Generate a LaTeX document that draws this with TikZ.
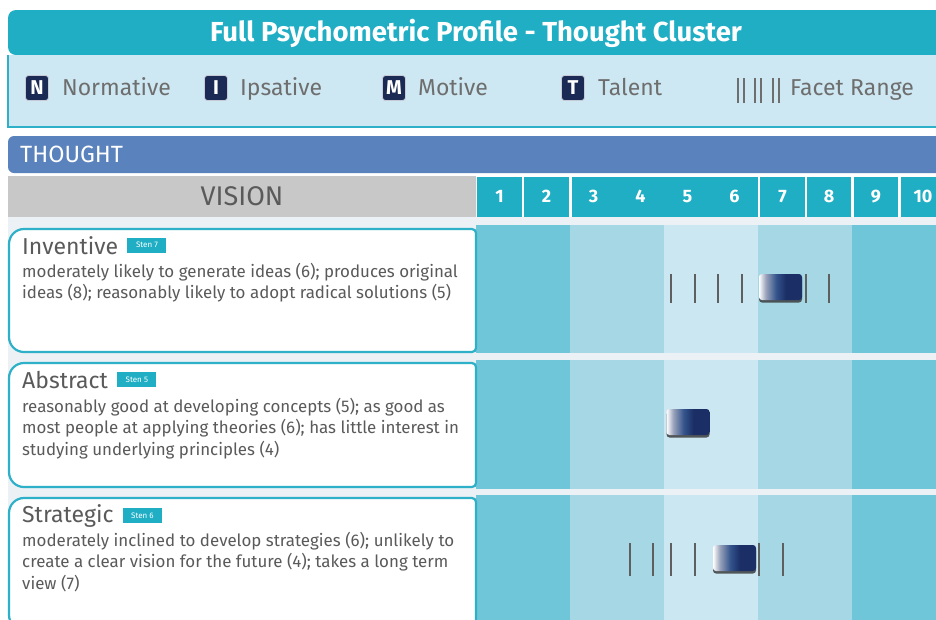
\documentclass[tikz,border=0pt]{standalone}
\usepackage{fontspec}
\setmainfont{Fira Sans}
\usetikzlibrary{positioning,shadows}
\definecolor{titleteal}{RGB}{32,174,197}
\definecolor{cardteal}{RGB}{46,176,200}
\definecolor{legendbg}{RGB}{205,232,242}
\definecolor{thoughtblue}{RGB}{90,130,188}
\definecolor{visiongray}{RGB}{200,200,200}
\definecolor{pagebg}{RGB}{235,241,244}
\definecolor{banddark}{RGB}{111,198,217}
\definecolor{bandmid}{RGB}{166,215,229}
\definecolor{bandlight}{RGB}{203,232,242}
\definecolor{navy}{RGB}{27,42,85}
\definecolor{markernavy}{RGB}{27,47,102}
\definecolor{markerblue}{RGB}{52,84,140}
\definecolor{legendtext}{RGB}{110,110,110}
\definecolor{textgray}{RGB}{90,90,90}
\definecolor{tickgray}{RGB}{95,95,95}
\pgfdeclarehorizontalshading{markershade}{100bp}{color(0bp)=(white); color(25bp)=(white);
    color(33bp)=(white!55!markernavy); color(45bp)=(markerblue); color(56bp)=(markernavy);
    color(100bp)=(markernavy)}

\begin{document}
\begin{tikzpicture}[x=1pt, y=-1pt,
    legbox/.style={fill=navy, draw=white!75!navy, line width=0.8pt, rounded corners=3pt,
        minimum width=23pt, minimum height=25pt, inner sep=0pt, text=white,
        font=\fontsize{20}{20}\selectfont\bfseries},
    legtext/.style={text=legendtext, font=\fontsize{23}{23}\selectfont, inner sep=0pt,
        text height=16pt, text depth=5pt, yshift=-2pt},
    legline/.style={draw=legendtext, line width=2pt},
    numcell/.style={fill=titleteal, minimum width=44.5pt, minimum height=40pt, inner sep=0pt,
        text=white, font=\fontsize{18}{18}\selectfont\bfseries},
    numtext/.style={text=white, inner sep=0pt, font=\fontsize{18}{18}\selectfont\bfseries},
    card/.style={draw=cardteal, line width=2.2pt, fill=white},
    cardtitle/.style={text=textgray, font=\fontsize{23}{23}\selectfont, inner sep=0pt, anchor=base west},
    badge/.style={fill=titleteal, text=white, font=\fontsize{8}{8}\selectfont, inner sep=0pt,
        minimum width=39pt, minimum height=15pt},
    desc/.style={text=textgray, font=\fontsize{16.9}{21.5}\selectfont, align=left, inner sep=0pt,
        anchor=north west},
    facet/.style={draw=tickgray, line width=2.5pt},
    marker/.style={rounded corners=3pt, shading=markershade, minimum width=43pt, minimum height=26pt,
        inner sep=0pt, drop shadow={shadow xshift=0pt, shadow yshift=-2.5pt, fill=black!80, opacity=0.8}}
]
    \useasboundingbox (0,0) rectangle (936,619);
    \clip (0,0) rectangle (936,619);
    \fill[white] (0,0) rectangle (936,619);

    % Title banner and legend.
    \fill[titleteal] (8,55) [rounded corners=8pt] -- (8,10) -- (950,10) -- (950,55) -- cycle;
    \node[text=white, font=\fontsize{27.5}{27.5}\selectfont\bfseries] (title) at (476,33)
        {Full Psychometric Profile - Thought Cluster};
    \fill[legendbg] (8,55) rectangle (936,127);
    \draw[cardteal, line width=1.5pt] (8,55) -- (8,127) -- (940,127);

    \node[legbox] (nbox) at (37,88) {N};
    \node[legtext, right=13pt of nbox] (nlab) {Normative};
    \node[legbox] (ibox) at (216,88) {I};
    \node[legtext, right=12pt of ibox] (ilab) {Ipsative};
    \node[legbox] (mbox) at (394,88) {M};
    \node[legtext, right=12pt of mbox] (mlab) {Motive};
    \node[legbox] (tbox) at (573,88) {T};
    \node[legtext, right=13pt of tbox] (tlab) {Talent};
    \foreach \x in {738,744,755,761,773,779}
        \draw[legline] (\x,78) -- (\x,103);
    \node[legtext, anchor=west] (flab) at (790,88) {Facet Range};

    % Cluster band and scale header.
    \fill[thoughtblue] (8,173) [rounded corners=6pt] -- (8,136) -- (950,136) -- (950,173) -- cycle;
    \node[text=white, font=\fontsize{23.5}{23.5}\selectfont, inner sep=0pt, anchor=west] (cluster) at (20,154) {THOUGHT};
    \fill[visiongray] (8,176) rectangle (476,217);
    \node[text=textgray, font=\fontsize{27}{27}\selectfont] (vision) at (242,196) {VISION};

    \node[numcell] (c1) at (499.5,196.5) {1};
    \node[numcell] (c2) at (546.5,196.5) {2};
    \node[numcell, minimum width=186pt] (c36) at (664.5,196.5) {};
    \node[numtext] (n3) at (593.5,196.5) {3};
    \node[numtext] (n4) at (640.5,196.5) {4};
    \node[numtext] (n5) at (687.5,196.5) {5};
    \node[numtext] (n6) at (734.5,196.5) {6};
    \node[numcell] (c7) at (782.5,196.5) {7};
    \node[numcell] (c8) at (829,196.5) {8};
    \node[numcell] (c9) at (876,196.5) {9};
    \node[numcell] (c10) at (923,196.5) {10};

    % Score bands behind the three rows.
    \fill[pagebg] (8,217) rectangle (936,619);
    \foreach \top/\bot in {225/353, 360/489, 495/625} {
        \fill[banddark] (476,\top) rectangle (570,\bot);
        \fill[bandmid] (570,\top) rectangle (664,\bot);
        \fill[bandlight] (664,\top) rectangle (758,\bot);
        \fill[bandmid] (758,\top) rectangle (852,\bot);
        \fill[banddark] (852,\top) rectangle (940,\bot);
    }

    % Inventive.
    \draw[card] (240,229) [rounded corners=4pt] -- (476,229) -- (476,352) -- (240,352)
        [rounded corners=15pt] -- (9,352) -- (9,229) -- cycle;
    \node[cardtitle] (invtitle) at (22,254) {Inventive};
    \node[badge, right=9pt of invtitle] (invbadge) {Sten 7};
    \node[desc] (invdesc) at (22,263) {moderately likely to generate ideas (6); produces original\\
        ideas (8); reasonably likely to adopt radical solutions (5)};
    \foreach \x in {671,695,718,742,806,829}
        \draw[facet] (\x,274) -- (\x,303);
    \node[marker] (invmark) at (780.5,287) {};

    % Abstract.
    \draw[card] (240,363) [rounded corners=4pt] -- (476,363) -- (476,487) -- (240,487)
        [rounded corners=15pt] -- (9,487) -- (9,363) -- cycle;
    \node[cardtitle] (abstitle) at (22,388) {Abstract};
    \node[badge, right=9pt of abstitle] (absbadge) {Sten 5};
    \node[desc] (absdesc) at (22,398) {reasonably good at developing concepts (5); as good as\\
        most people at applying theories (6); has little interest in\\
        studying underlying principles (4)};
    \node[marker] (absmark) at (688,422) {};

    % Strategic.
    \draw[card] (240,498) [rounded corners=4pt] -- (476,498) -- (476,630) -- (240,630)
        [rounded corners=15pt] -- (9,630) -- (9,498) -- cycle;
    \node[cardtitle] (strtitle) at (22,522) {Strategic};
    \node[badge, right=9pt of strtitle] (strbadge) {Sten 6};
    \node[desc] (strdesc) at (22,532) {moderately inclined to develop strategies (6); unlikely to\\
        create a clear vision for the future (4); takes a long term\\
        view (7)};
    \foreach \x in {630,653,671,695,759,783}
        \draw[facet] (\x,543) -- (\x,576);
    \node[marker] (strmark) at (734.5,558) {};
\end{tikzpicture}
\end{document}
